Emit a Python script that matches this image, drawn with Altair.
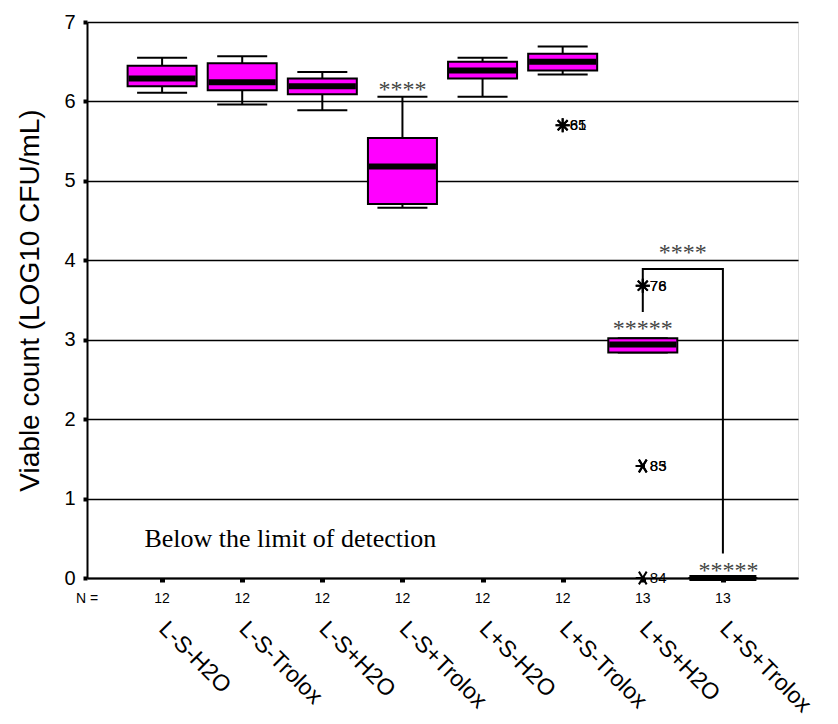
import altair as alt
import pandas as pd

# ---- data ----
groups = ["L-S-H2O", "L-S-Trolox", "L-S+H2O", "L-S+Trolox",
          "L+S-H2O", "L+S-Trolox", "L+S+H2O", "L+S+Trolox"]
n_counts = [12, 12, 12, 12, 12, 12, 13, 13]
lower = [6.11, 5.96, 5.89, 4.66, 6.06, 6.34, 2.84, 0.0]
q1 = [6.19, 6.14, 6.09, 4.71, 6.29, 6.39, 2.84, 0.0]
median = [6.29, 6.24, 6.19, 5.18, 6.39, 6.50, 2.94, 0.0]
q3 = [6.45, 6.48, 6.29, 5.54, 6.50, 6.60, 3.02, 0.0]
upper = [6.55, 6.57, 6.37, 6.06, 6.55, 6.69, 3.02, 0.0]

out_group = [6, 6, 7, 7, 7, 7, 7]
out_value = [5.70, 5.70, 3.68, 3.68, 1.41, 1.41, 0.0]
out_label = ["81", "65", "76", "78", "85", "83", "84"]
out_kind = ["extreme", "extreme", "extreme", "extreme", "outlier", "outlier", "outlier"]

sig_x = [4, 7, 8.07, 7.5]
sig_y = [6.06, 3.05, 0.0, 4.0]
sig_text = ["****", "*****", "*****", "****"]

bracket_x = [7, 7, 8, 8]
bracket_y = [3.35, 3.89, 3.89, 0.31]
bracket_order = [1, 2, 3, 4]

note_text = ["Below the limit of detection"]
note_x = [0.78]
note_y = [0.39]

n_prefix = ["N ="]
y_title = "Viable count (LOG10 CFU/mL)"

# ---- tables ----
idx = list(range(1, len(groups) + 1))
df_box = pd.DataFrame(dict(idx=idx, group=groups, n=n_counts, lower=lower,
                           q1=q1, median=median, q3=q3, upper=upper))
df_out = pd.DataFrame(dict(idx=out_group, value=out_value, label=out_label, kind=out_kind))
df_sig = pd.DataFrame(dict(idx=sig_x, value=sig_y, text=sig_text))
df_br = pd.DataFrame(dict(idx=bracket_x, value=bracket_y, o=bracket_order))
df_note = pd.DataFrame(dict(idx=note_x, value=note_y, text=note_text))
df_n = pd.DataFrame(dict(t=n_prefix))

SANS = "Liberation Sans"
SERIF = "Liberation Serif"
W, H = 711, 556

xscale = alt.Scale(domain=[0.125, 8.875], nice=False, zero=False)
yscale = alt.Scale(domain=[0, 7], nice=False, zero=False)

xaxis = alt.Axis(values=idx, labels=False, title=None, grid=False,
                 tickSize=4, tickWidth=5, tickColor="black",
                 domainColor="black", domainWidth=2)
yaxis = alt.Axis(values=list(range(0, 8)), format="d", title=y_title,
                 titleFont=SANS, titleFontSize=28, titleFontWeight="normal",
                 titleColor="black", titleX=-57, titleY=H / 2,
                 titleAlign="center", titleBaseline="middle",
                 labelFont=SANS, labelFontSize=20, labelColor="black", labelPadding=8,
                 tickSize=4, tickWidth=4, tickColor="black",
                 domainColor="black", domainWidth=2,
                 grid=True, gridColor="black", gridWidth=1.3)

X = alt.X("idx:Q", scale=xscale, axis=xaxis)
base = alt.Chart(df_box).encode(x=X)

whisk = base.mark_rule(color="black", strokeWidth=2).encode(
    y=alt.Y("lower:Q", scale=yscale, axis=yaxis), y2="upper:Q")
cap_hi = base.mark_tick(orient="horizontal", size=50, thickness=2, color="black", opacity=1).encode(
    y=alt.Y("upper:Q", scale=yscale))
cap_lo = base.mark_tick(orient="horizontal", size=50, thickness=2, color="black", opacity=1).encode(
    y=alt.Y("lower:Q", scale=yscale))
box = base.mark_bar(size=69, color="#FF00FF", stroke="black", strokeWidth=2).encode(
    y=alt.Y("q1:Q", scale=yscale), y2="q3:Q")
med = base.mark_tick(orient="horizontal", size=67, thickness=6, color="black", opacity=1).encode(
    y=alt.Y("median:Q", scale=yscale))

star_path = "M-1,0L1,0M0,-1L0,1M-0.7,-0.7L0.7,0.7M-0.7,0.7L0.7,-0.7"
x_path = "M-1,0L0.3,0M-0.55,-0.9L0.55,0.9M-0.55,0.9L0.55,-0.9"
outl = alt.Chart(df_out).mark_point(filled=False, strokeWidth=2, color="black", opacity=1).encode(
    x=X, y=alt.Y("value:Q", scale=yscale),
    shape=alt.Shape("kind:N", scale=alt.Scale(domain=["extreme", "outlier"], range=[star_path, x_path]), legend=None),
    size=alt.value(200))
outl_lab = alt.Chart(df_out).mark_text(align="left", baseline="middle", dx=7, font=SANS,
                                       fontSize=15, color="black").encode(
    x=X, y=alt.Y("value:Q", scale=yscale), text="label:N")

bracket = alt.Chart(df_br).mark_line(color="black", strokeWidth=2).encode(
    x=X, y=alt.Y("value:Q", scale=yscale), order="o:Q")

sig = alt.Chart(df_sig).mark_text(align="center", baseline="alphabetic", font=SERIF,
                                  fontSize=24, color="#444444").encode(
    x=X, y=alt.Y("value:Q", scale=yscale), text="text:N")

note = alt.Chart(df_note).mark_text(align="left", baseline="alphabetic", font=SERIF,
                                    fontSize=26, color="black").encode(
    x=X, y=alt.Y("value:Q", scale=yscale), text="text:N")

ncount = base.mark_text(align="center", baseline="middle", font=SANS, fontSize=14,
                        color="black").encode(text="n:N", y=alt.value(H + 21))
nprefix = alt.Chart(df_n).mark_text(align="center", baseline="middle", font=SANS, fontSize=14,
                                    color="black").encode(text="t:N", x=alt.value(0), y=alt.value(H + 21))

cats = base.mark_text(align="left", baseline="top", angle=45, font=SANS, fontSize=23,
                      color="black", dx=7, dy=-5).encode(text="group:N", y=alt.value(H + 38))

chart = alt.layer(whisk, cap_hi, cap_lo, box, med, bracket, outl, outl_lab, sig, note,
                  ncount, nprefix, cats).properties(
    width=W, height=H,
    padding={"left": 79, "top": 14, "right": 32, "bottom": 138},
    autosize=alt.AutoSizeParams(type="none"),
).configure_view(stroke="black", strokeWidth=2).configure(background="white")

chart.save("out.html", embed_options={"renderer": "svg", "actions": False})
